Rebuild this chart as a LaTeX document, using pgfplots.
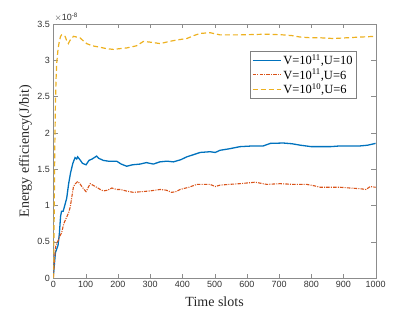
\documentclass[border=0pt]{standalone}
\usepackage{fontspec}
\setmainfont{Liberation Serif}
\newfontfamily\tickfont{Liberation Sans}
\usepackage{pgfplots}
\pgfplotsset{compat=1.18}
\definecolor{mblue}{rgb}{0,0.447,0.741}
\definecolor{morange}{rgb}{0.85,0.325,0.098}
\definecolor{myellow}{rgb}{0.929,0.694,0.125}
\begin{document}
\begin{tikzpicture}
\useasboundingbox (-53.5bp,-34bp) rectangle (361.5bp,278bp);
\begin{axis}[
  scale only axis,
  width=322.2bp, height=254bp,
  xmin=0, xmax=1000, ymin=0, ymax=3.5,
  xtick={0,100,...,1000},
  ytick={0,0.5,...,3.5},
  yticklabels={0,0.5,1,1.5,2,2.5,3,3.5},
  xticklabel style={/pgf/number format/1000 sep={}},
  tick align=inside,
  axis line style={draw=black!45},
  major tick style={draw=black!45},
  tick label style={font=\fontsize{9bp}{10bp}\tickfont, text=black!80},
  /pgf/number format/assume math mode=true,
  xlabel={Time slots},
  ylabel={Energy efficiency(J/bit)},
  label style={font=\fontsize{14bp}{16bp}\selectfont, text=black!85},
  xlabel style={at={(0.5,0)}, anchor=north, yshift=-15bp},
  ylabel style={at={(0,0.5)}, anchor=south, yshift=18bp},
  legend style={at={(0.611,0.895)}, anchor=north west, draw=black!50, font=\fontsize{12.5bp}{14bp}\selectfont, inner sep=1.5bp, row sep=-1bp, cells={anchor=west}},
  legend cell align=left,
  legend image code/.code={\draw[#1] (0bp,0bp) -- (28bp,0bp);},
  clip=true,
]
\addplot[mblue, line width=1.3pt] coordinates {
(0,0.05) (3,0.2) (6,0.35) (10,0.40) (14,0.45) (18,0.60) (22,0.85) (25,0.92) (30,0.92) (35,1.00) (41,1.10) (47,1.30) (53,1.45) (60,1.58) (67,1.66) (72,1.64) (75,1.67) (82,1.63) (90,1.58) (101,1.56) (110,1.62) (120,1.64) (134,1.68) (140,1.65) (155,1.62) (170,1.61) (196,1.61) (210,1.57) (227,1.54) (245,1.56) (269,1.57) (288,1.59) (310,1.57) (330,1.60) (352,1.61) (372,1.60) (395,1.63) (414,1.67) (435,1.70) (455,1.73) (486,1.74) (502,1.73) (517,1.76) (545,1.78) (579,1.81) (620,1.82) (651,1.82) (673,1.855) (713,1.86) (740,1.85) (766,1.83) (800,1.81) (828,1.81) (860,1.81) (890,1.82) (920,1.82) (952,1.82) (975,1.83) (1000,1.855)
};
\addlegendentry{V=10\textsuperscript{11},U=10}
\addplot[morange, line width=1.1pt, dash pattern=on 3.5pt off 1.2pt on 1pt off 1.2pt] coordinates {
(0,0.02) (3,0.25) (6,0.42) (10,0.48) (15,0.52) (20,0.58) (25,0.62) (32,0.75) (41,0.84) (47,0.90) (52,0.98) (57,1.12) (62,1.26) (68,1.30) (75,1.33) (82,1.30) (88,1.26) (95,1.22) (101,1.19) (108,1.25) (114,1.30) (122,1.28) (134,1.25) (145,1.22) (155,1.20) (168,1.21) (181,1.24) (195,1.22) (207,1.22) (225,1.20) (248,1.18) (275,1.19) (300,1.20) (331,1.22) (350,1.21) (367,1.18) (380,1.19) (393,1.22) (420,1.25) (445,1.29) (486,1.29) (502,1.26) (517,1.28) (545,1.29) (579,1.30) (626,1.32) (662,1.29) (703,1.30) (745,1.29) (786,1.29) (810,1.27) (828,1.25) (860,1.25) (890,1.25) (920,1.24) (952,1.23) (970,1.22) (983,1.26) (1000,1.25)
};
\addlegendentry{V=10\textsuperscript{11},U=6}
\addplot[myellow, line width=1.2pt, dash pattern=on 5pt off 3pt] coordinates {
(0,0.0) (2,0.8) (4,1.8) (6,2.4) (8,2.75) (10,2.96) (14,3.15) (18,3.26) (22,3.33) (25,3.35) (30,3.34) (36,3.33) (41,3.27) (46,3.23) (52,3.28) (62,3.33) (72,3.32) (82,3.31) (92,3.27) (103,3.23) (120,3.20) (144,3.18) (165,3.16) (186,3.15) (205,3.16) (227,3.17) (258,3.20) (279,3.26) (300,3.25) (331,3.23) (360,3.26) (383,3.28) (414,3.30) (435,3.34) (455,3.37) (486,3.38) (517,3.35) (550,3.35) (579,3.35) (620,3.355) (662,3.36) (713,3.35) (740,3.34) (766,3.32) (800,3.31) (828,3.31) (869,3.30) (910,3.31) (952,3.32) (1000,3.33)
};
\addlegendentry{V=10\textsuperscript{10},U=6}
\end{axis}
\node[anchor=south west, font=\fontsize{9bp}{10bp}\tickfont, text=black!80, inner sep=0pt] at (1bp,256bp) {$\times$10\textsuperscript{-8}};
\end{tikzpicture}
\end{document}
